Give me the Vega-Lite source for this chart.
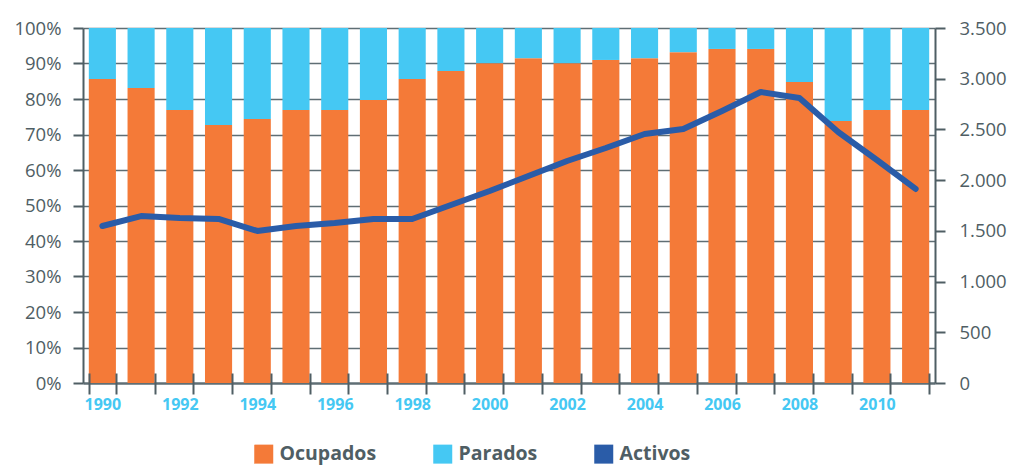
{
  "$schema": "https://vega.github.io/schema/vega-lite/v6.json",
  "width": 852,
  "height": 355,
  "autosize": {"type": "none"},
  "padding": {"left": 83, "top": 28, "right": 81, "bottom": 82},
  "config": {
    "locale": {"number": {"decimal": ",", "thousands": ".", "grouping": [3], "currency": ["", " €"]}},
    "view": {"stroke": null},
    "font": "Open Sans"
  },
  "datasets": {
    "barras": [
      {"anio": "1990", "serie": "Ocupados", "valor": 85.6}, {"anio": "1990", "serie": "Parados", "valor": 14.4},
      {"anio": "1991", "serie": "Ocupados", "valor": 83.1}, {"anio": "1991", "serie": "Parados", "valor": 16.9},
      {"anio": "1992", "serie": "Ocupados", "valor": 76.9}, {"anio": "1992", "serie": "Parados", "valor": 23.1},
      {"anio": "1993", "serie": "Ocupados", "valor": 72.7}, {"anio": "1993", "serie": "Parados", "valor": 27.3},
      {"anio": "1994", "serie": "Ocupados", "valor": 74.4}, {"anio": "1994", "serie": "Parados", "valor": 25.6},
      {"anio": "1995", "serie": "Ocupados", "valor": 76.9}, {"anio": "1995", "serie": "Parados", "valor": 23.1},
      {"anio": "1996", "serie": "Ocupados", "valor": 76.9}, {"anio": "1996", "serie": "Parados", "valor": 23.1},
      {"anio": "1997", "serie": "Ocupados", "valor": 79.7}, {"anio": "1997", "serie": "Parados", "valor": 20.3},
      {"anio": "1998", "serie": "Ocupados", "valor": 85.6}, {"anio": "1998", "serie": "Parados", "valor": 14.4},
      {"anio": "1999", "serie": "Ocupados", "valor": 87.9}, {"anio": "1999", "serie": "Parados", "valor": 12.1},
      {"anio": "2000", "serie": "Ocupados", "valor": 90.1}, {"anio": "2000", "serie": "Parados", "valor": 9.9},
      {"anio": "2001", "serie": "Ocupados", "valor": 91.5}, {"anio": "2001", "serie": "Parados", "valor": 8.5},
      {"anio": "2002", "serie": "Ocupados", "valor": 90.1}, {"anio": "2002", "serie": "Parados", "valor": 9.9},
      {"anio": "2003", "serie": "Ocupados", "valor": 91.0}, {"anio": "2003", "serie": "Parados", "valor": 9.0},
      {"anio": "2004", "serie": "Ocupados", "valor": 91.5}, {"anio": "2004", "serie": "Parados", "valor": 8.5},
      {"anio": "2005", "serie": "Ocupados", "valor": 93.2}, {"anio": "2005", "serie": "Parados", "valor": 6.8},
      {"anio": "2006", "serie": "Ocupados", "valor": 94.1}, {"anio": "2006", "serie": "Parados", "valor": 5.9},
      {"anio": "2007", "serie": "Ocupados", "valor": 94.1}, {"anio": "2007", "serie": "Parados", "valor": 5.9},
      {"anio": "2008", "serie": "Ocupados", "valor": 84.8}, {"anio": "2008", "serie": "Parados", "valor": 15.2},
      {"anio": "2009", "serie": "Ocupados", "valor": 73.8}, {"anio": "2009", "serie": "Parados", "valor": 26.2},
      {"anio": "2010", "serie": "Ocupados", "valor": 76.9}, {"anio": "2010", "serie": "Parados", "valor": 23.1},
      {"anio": "2011", "serie": "Ocupados", "valor": 76.9}, {"anio": "2011", "serie": "Parados", "valor": 23.1}
    ],
    "activos": [
      {"anio": "1990", "activos": 1548}, {"anio": "1991", "activos": 1646}, {"anio": "1992", "activos": 1627},
      {"anio": "1993", "activos": 1617}, {"anio": "1994", "activos": 1499}, {"anio": "1995", "activos": 1548},
      {"anio": "1996", "activos": 1577}, {"anio": "1997", "activos": 1617}, {"anio": "1998", "activos": 1617},
      {"anio": "1999", "activos": 1755}, {"anio": "2000", "activos": 1893}, {"anio": "2001", "activos": 2041},
      {"anio": "2002", "activos": 2189}, {"anio": "2003", "activos": 2317}, {"anio": "2004", "activos": 2455},
      {"anio": "2005", "activos": 2504}, {"anio": "2006", "activos": 2682}, {"anio": "2007", "activos": 2869},
      {"anio": "2008", "activos": 2810}, {"anio": "2009", "activos": 2475}, {"anio": "2010", "activos": 2199},
      {"anio": "2011", "activos": 1913}
    ]
  },
  "layer": [
    {
      "data": {"name": "barras"},
      "mark": {"type": "bar"},
      "encoding": {
        "x": {
          "field": "anio", "type": "ordinal",
          "scale": {"paddingInner": 0.3, "paddingOuter": 0.15},
          "axis": {
            "title": null, "labelAngle": 0, "tickBand": "extent", "tickSize": 21, "tickWidth": 2,
            "offset": -10, "domain": false, "zindex": 1,
            "tickColor": "#4f5e64",
            "labelColor": "#45c8f3", "labelFontWeight": "bold", "labelFontSize": 16, "labelPadding": 2,
            "labelOverlap": false, "grid": false,
            "labelExpr": "parseInt(datum.value) % 2 == 0 ? datum.value : ''"
          }
        },
        "y": {
          "field": "valor", "type": "quantitative", "stack": "zero",
          "scale": {"domain": [0, 100]},
          "axis": {
            "title": null, "values": [0, 10, 20, 30, 40, 50, 60, 70, 80, 90, 100],
            "labelExpr": "datum.value + '%'", "grid": true, "gridColor": "#5f6e74",
            "gridWidth": {"condition": {"test": "datum.value == 0", "value": 2.5}, "value": 1.5},
            "tickSize": 10, "tickWidth": 2, "tickColor": "#4f5e64", "domainColor": "#4f5e64", "domainWidth": 2,
            "labelColor": "#4f5e64", "labelFontSize": 18.5, "labelPadding": 12
          }
        },
        "color": {
          "field": "serie", "type": "nominal",
          "scale": {"domain": ["Ocupados", "Parados", "Activos"], "range": ["#f47a38", "#45c8f3", "#2a5ca8"]},
          "legend": {
            "title": null, "orient": "none", "legendX": 171, "legendY": 416, "direction": "horizontal",
            "symbolType": "square", "symbolSize": 361, "symbolStrokeWidth": 0, "symbolOpacity": 1,
            "labelFontSize": 19.5, "labelFontWeight": "bold", "labelColor": "#4f5e64", "labelOffset": 6,
            "columnPadding": 56
          }
        },
        "order": {"field": "serie", "sort": "ascending"}
      }
    },
    {
      "data": {"name": "activos"},
      "mark": {"type": "line", "color": "#2a5ca8", "strokeWidth": 6, "strokeCap": "round", "strokeJoin": "round"},
      "encoding": {
        "x": {"field": "anio", "type": "ordinal"},
        "y": {
          "field": "activos", "type": "quantitative",
          "scale": {"domain": [0, 3500]},
          "axis": {
            "orient": "right", "title": null, "values": [0, 500, 1000, 1500, 2000, 2500, 3000, 3500],
            "format": ",.0f", "grid": false, "tickSize": 10, "tickWidth": 2, "tickColor": "#4f5e64",
            "domainColor": "#4f5e64", "domainWidth": 2, "labelColor": "#4f5e64", "labelFontSize": 18.5,
            "labelPadding": 14
          }
        }
      }
    }
  ],
  "resolve": {"scale": {"y": "independent"}}
}
